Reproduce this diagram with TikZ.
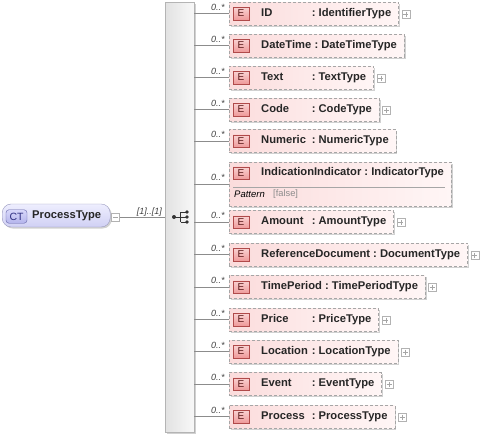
\documentclass[tikz,border=0pt]{standalone}
\usepackage{fontspec}
\setmainfont{Liberation Sans}
\usetikzlibrary{shadows,fit,backgrounds,calc}
\definecolor{elfillL}{HTML}{FBDCDC}
\definecolor{elfillR}{HTML}{FFF6F6}
\definecolor{elborder}{HTML}{A6A6A6}
\definecolor{badgeT}{HTML}{FAD2D2}
\definecolor{badgeB}{HTML}{EE9A9A}
\definecolor{badgeD}{HTML}{B04A4A}
\definecolor{badgeTx}{HTML}{5A1A1A}
\definecolor{ctT}{HTML}{EEEEFE}
\definecolor{ctB}{HTML}{D0D0F4}
\definecolor{ctD}{HTML}{9898BE}
\definecolor{ctbT}{HTML}{D8D8FA}
\definecolor{ctbB}{HTML}{B4B4EC}
\definecolor{ctbD}{HTML}{6464A8}
\definecolor{ctbTx}{HTML}{2E2E80}
\definecolor{txt}{HTML}{262626}
\definecolor{seqL}{HTML}{E2E2E2}
\definecolor{seqR}{HTML}{F8F8F8}
\definecolor{seqD}{HTML}{B4B4B4}
\newsavebox\nmbox
\newcommand\namefield[1]{\sbox\nmbox{#1}\ifdim\wd\nmbox<47.5pt\makebox[47.5pt][l]{\usebox\nmbox}\else\usebox\nmbox\fi}
\tikzset{
  shad/.style={drop shadow={shadow xshift=1.5pt,shadow yshift=-1.5pt,fill=black,opacity=0.18}},
  elembox/.style={draw=elborder, dash pattern=on 3pt off 2pt, left color=elfillL, right color=elfillR, inner sep=0pt, shad},
  ebadge/.style={draw=badgeD, top color=badgeT, bottom color=badgeB, minimum width=16pt, minimum height=12.5pt, inner sep=0pt, text=badgeTx, font=\fontsize{10}{12}\selectfont},
  ename/.style={inner sep=0pt, text=txt, font=\fontsize{11.2}{13}\selectfont\bfseries},
  mult/.style={inner sep=0pt, text=black!75, font=\fontsize{9}{11}\selectfont\itshape},
  conn/.style={draw=black!45, line width=0.6pt},
  plusbox/.style={draw=black!30, fill=white, minimum size=8pt, inner sep=0pt},
  pm/.style={draw=black!35, line width=0.5pt},
  seqbar/.style={draw=seqD, left color=seqL, right color=seqR, inner sep=0pt, shad},
  ctbox/.style={draw=ctD, top color=ctT, bottom color=ctB, rounded corners=9pt, inner sep=0pt, shad},
  ctbadge/.style={draw=ctbD, top color=ctbT, bottom color=ctbB, rounded corners=3pt, minimum width=21pt, minimum height=13.5pt, inner sep=0pt, text=ctbTx, font=\fontsize{10.5}{12}\selectfont},
  seqicon/.style={draw=black!80, line width=0.7pt},
  patt/.style={inner sep=0pt, font=\fontsize{9.5}{11}\selectfont\itshape, text=black},
  pattv/.style={inner sep=0pt, font=\fontsize{9.3}{11}\selectfont, text=black!45},
}
\newcommand\elrow[5]{%
  \node[ename, anchor=west] (#1t) at (261,#2) {\namefield{#3}\ :\ #4};
  \coordinate (#1a) at (229,#2-11.5);
  \coordinate (#1b) at ($(#1t.east)+(7,11.5)$);
  \begin{pgfonlayer}{background}
    \node[elembox, fit=(#1a)(#1b)] (#1) {};
  \end{pgfonlayer}
  \node[ebadge] (#1e) at (241,#2) {E};
  \draw[conn] (seq.east |- #1.west) -- (#1.west);
  \node[mult, anchor=base east] (#1m) at ($(#1.west)+(-4,-3.5)$) {0..*};
  \ifnum#5=1
    \node[plusbox, anchor=west] (#1p) at ($(#1.east)+(3,0.5)$) {};
    \draw[pm] ($(#1p.center)+(-2.5,0)$) -- ($(#1p.center)+(2.5,0)$) ($(#1p.center)+(0,-2.5)$) -- ($(#1p.center)+(0,2.5)$);
  \fi
}
\begin{document}
\begin{tikzpicture}[x=1pt,y=-1pt]
\useasboundingbox (0,0) rectangle (480,437);
% sequence compositor
\node[seqbar, minimum width=29pt, minimum height=430pt, anchor=north west] (seq) at (165,2) {};
\fill[black!80] (174,217) circle (2);
\draw[seqicon] (174,217) -- (180.5,217) (180.5,212) -- (180.5,222)
  (180.5,212) -- (187,212) (180.5,217) -- (187,217) (180.5,222) -- (187,222);
\fill[black!80] (187,212) circle (1.9) (187,217) circle (1.9) (187,222) circle (1.9);
% complex type
\node[ctbox, minimum width=108pt, minimum height=23pt, anchor=west] (ct) at (2,215.5) {};
\node[ctbadge] (ctb) at (16.5,216.5) {CT};
\node[ename, anchor=west] (ctt) at (32,216) {ProcessType};
\node[plusbox] (ctm) at (115.5,217.5) {};
\draw[pm] ($(ctm.center)+(-2.5,0)$) -- ($(ctm.center)+(2.5,0)$);
\draw[conn] (ctm.east) -- (seq.west |- ctm.east);
\node[mult, anchor=base east] (m0) at (162,214.5) {[1]..[1]};
% elements
\elrow{id}{13.5}{ID}{IdentifierType}{1}
\elrow{dt}{45.5}{DateTime}{DateTimeType}{0}
\elrow{tx}{77.5}{Text}{TextType}{1}
\elrow{cd}{109.5}{Code}{CodeType}{1}
\elrow{nu}{141}{Numeric}{NumericType}{0}
% IndicationIndicator (with pattern facet)
\node[ename, anchor=west] (iit) at (261,173) {IndicationIndicator\ :\ IndicatorType};
\coordinate (iia) at (229,162);
\coordinate (iib) at ($(iit.east)+(7,0)$);
\coordinate (iic) at (229,206);
\begin{pgfonlayer}{background}
  \node[elembox, fit=(iia)(iib)(iic)] (ii) {};
\end{pgfonlayer}
\node[ebadge] (iie) at (241,173) {E};
\draw[black!35, line width=0.6pt] (233,187) -- ($(ii.east |- 0,187)+(-6,0)$);
\node[patt, anchor=west] (iip) at (234,194.5) {Pattern};
\node[pattv, anchor=west] (iiv) at (273,194.5) {[false]};
\draw[conn] (seq.east |- ii.west) -- (ii.west);
\node[mult, anchor=base east] (iim) at ($(ii.west)+(-4,-3.5)$) {0..*};
\elrow{am}{222}{Amount}{AmountType}{1}
\elrow{rd}{254.5}{ReferenceDocument}{DocumentType}{1}
\elrow{tp}{287}{TimePeriod}{TimePeriodType}{1}
\elrow{pr}{319.5}{Price}{PriceType}{1}
\elrow{lo}{351.5}{Location}{LocationType}{1}
\elrow{ev}{384}{Event}{EventType}{1}
\elrow{ps}{416.5}{Process}{ProcessType}{1}
\end{tikzpicture}
\end{document}
